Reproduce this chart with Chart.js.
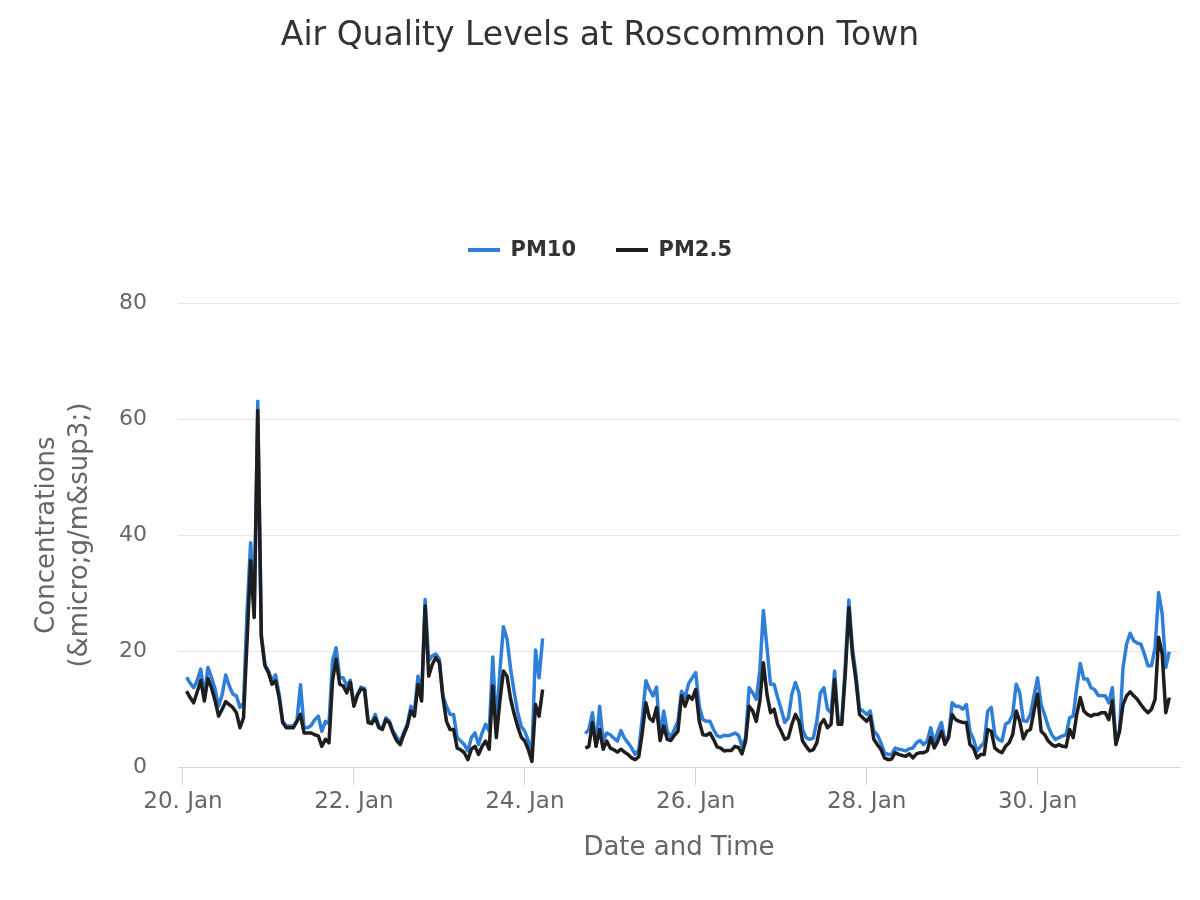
<!DOCTYPE html>
<html>
<head>
<meta charset="utf-8">
<title>Air Quality Levels at Roscommon Town</title>
<script src="https://cdn.jsdelivr.net/npm/chart.js@4/dist/chart.umd.min.js"></script>
<style>
  html, body { margin: 0; padding: 0; background: #ffffff; }
  canvas { display: block; }
</style>
</head>
<body>
<canvas id="aqChart" width="1200" height="900"></canvas>
<script>
// hourly readings, hour 1 = 20 Jan 01:00; null = no data
const pm10 = [
  15.5, 14.5, 13.7, 15.0, 16.9, 12.3, 17.2, 15.5, 13.5, 10.5, 12.5, 15.9, 14.0, 12.6, 12.3, 10.3,
  11.0, 27.0, 38.7, 26.4, 63.1, 22.9, 17.7, 16.6, 14.9, 15.9, 12.6, 7.9, 7.1, 7.1, 7.1, 8.0,
  14.2, 6.8, 6.8, 7.2, 8.2, 8.8, 6.2, 7.9, 7.5, 18.3, 20.6, 15.4, 15.4, 14.0, 15.0, 10.8,
  12.6, 13.8, 13.6, 7.9, 7.7, 9.1, 7.1, 6.8, 8.5, 7.9, 6.2, 5.2, 4.4, 6.0, 7.4, 10.5,
  9.7, 15.7, 12.0, 28.9, 18.3, 19.2, 19.5, 18.6, 12.3, 10.5, 9.1, 9.1, 5.1, 4.5, 3.9, 2.8,
  5.1, 5.9, 3.9, 5.9, 7.4, 6.2, 19.0, 6.8, 16.6, 24.2, 22.1, 17.0, 13.0, 9.5, 7.0, 6.2,
  4.5, 2.5, 20.2, 15.4, 22.2,
  null, null, null, null, null, null, null, null, null, null, null,
  5.8, 6.5, 9.4, 3.6, 10.5, 4.5, 5.9, 5.6, 5.0, 4.5, 6.3, 5.0, 4.2, 3.3, 2.2, 3.0,
  8.5, 14.9, 13.4, 12.3, 13.8, 5.0, 9.7, 6.2, 5.1, 6.5, 7.9, 13.1, 12.0, 14.4, 15.4, 16.3,
  10.5, 8.2, 7.9, 7.9, 6.5, 5.4, 5.2, 5.5, 5.4, 5.6, 5.9, 5.5, 3.6, 5.1, 13.7, 12.8,
  11.7, 16.6, 27.0, 20.6, 14.3, 14.3, 12.0, 10.0, 7.7, 8.5, 12.6, 14.6, 12.8, 6.5, 5.1, 4.8,
  5.0, 7.9, 12.8, 13.7, 10.0, 9.4, 16.6, 7.7, 7.7, 17.7, 28.8, 20.6, 16.0, 10.0, 9.7, 9.1,
  9.7, 6.2, 5.6, 4.2, 2.5, 2.2, 2.2, 3.3, 3.1, 3.0, 2.8, 3.2, 3.3, 4.2, 4.6, 3.9,
  4.5, 6.8, 4.2, 6.2, 7.7, 4.5, 5.4, 11.1, 10.5, 10.5, 10.0, 10.8, 6.2, 4.8, 2.8, 3.6,
  4.2, 9.7, 10.3, 5.6, 4.8, 4.5, 7.4, 7.8, 9.1, 14.3, 12.8, 8.0, 7.9, 9.1, 12.3, 15.4,
  10.8, 9.0, 7.0, 5.6, 4.8, 5.1, 5.4, 5.6, 8.5, 8.8, 13.7, 17.9, 15.2, 15.2, 13.7, 13.4,
  12.4, 12.3, 12.3, 11.1, 13.7, 4.2, 6.2, 17.2, 21.2, 23.1, 21.8, 21.4, 21.2, 19.5, 17.5, 17.5,
  20.6, 30.1, 26.4, 17.2, 19.9
];

const pm25 = [
  13.1, 12.0, 11.1, 13.0, 15.0, 11.4, 15.3, 13.7, 11.5, 8.8, 10.0, 11.3, 10.8, 10.3, 9.4, 6.8,
  8.5, 21.8, 35.6, 25.8, 61.5, 22.4, 17.5, 16.3, 14.3, 14.9, 12.0, 7.7, 6.8, 6.8, 6.8, 7.9,
  9.1, 5.9, 5.9, 5.9, 5.6, 5.4, 3.6, 4.8, 4.2, 14.9, 18.6, 14.3, 14.0, 12.8, 14.6, 10.5,
  12.4, 13.5, 13.3, 7.7, 7.5, 8.5, 6.8, 6.5, 8.2, 7.6, 5.9, 4.6, 3.9, 5.6, 7.1, 9.7,
  8.8, 14.3, 11.4, 27.8, 15.7, 17.7, 18.9, 18.0, 12.0, 7.9, 6.5, 6.5, 3.3, 3.0, 2.5, 1.3,
  3.1, 3.6, 2.2, 3.6, 4.5, 3.1, 14.0, 5.1, 11.4, 16.6, 15.7, 11.8, 9.2, 7.0, 5.2, 4.5,
  3.0, 1.0, 10.8, 8.8, 13.4,
  null, null, null, null, null, null, null, null, null, null, null,
  3.3, 3.6, 7.7, 3.6, 6.5, 3.1, 4.5, 3.3, 3.0, 2.6, 3.1, 2.6, 2.2, 1.6, 1.3, 1.8,
  6.0, 11.1, 8.5, 7.9, 10.3, 4.6, 7.1, 4.8, 4.6, 5.5, 6.2, 12.3, 10.5, 12.3, 11.7, 13.4,
  7.9, 5.6, 5.5, 5.9, 4.8, 3.5, 3.3, 2.8, 2.9, 2.9, 3.6, 3.4, 2.3, 4.5, 10.5, 9.7,
  7.9, 11.4, 18.0, 12.6, 9.4, 10.0, 7.4, 6.2, 4.8, 5.1, 7.4, 9.1, 7.9, 4.5, 3.6, 2.8,
  3.0, 4.2, 7.4, 8.2, 6.8, 7.4, 15.1, 7.4, 7.4, 16.0, 27.5, 19.5, 14.9, 9.1, 8.5, 7.9,
  8.8, 4.8, 3.9, 3.1, 1.6, 1.3, 1.4, 2.5, 2.2, 2.0, 1.9, 2.3, 1.6, 2.3, 2.5, 2.5,
  2.8, 5.1, 3.3, 4.5, 6.2, 3.9, 5.1, 9.1, 8.2, 7.9, 7.7, 7.7, 3.9, 3.3, 1.6, 2.2,
  2.2, 6.5, 6.2, 3.3, 2.8, 2.5, 3.6, 4.2, 5.6, 9.7, 7.9, 4.9, 6.2, 6.5, 9.7, 12.6,
  6.2, 5.6, 4.5, 3.9, 3.6, 3.9, 3.6, 3.5, 6.5, 5.1, 9.1, 12.0, 9.7, 9.1, 8.8, 9.1,
  9.1, 9.4, 9.4, 8.2, 11.4, 3.9, 6.2, 10.8, 12.3, 13.0, 12.3, 11.7, 10.8, 10.0, 9.4, 10.0,
  11.7, 22.4, 19.5, 9.4, 12.0
];

// hours since 20 Jan 00:00
const hours = pm10.map((v, i) => i + 1);
const tickHours = [0, 48, 96, 144, 192, 240];
const tickLabels = ['20. Jan', '22. Jan', '24. Jan', '26. Jan', '28. Jan', '30. Jan'];

Chart.defaults.font.family = "'DejaVu Sans', sans-serif";

const ctx = document.getElementById('aqChart').getContext('2d');
const myChart = new Chart(ctx, {
  type: 'line',
  data: {
    datasets: [
      {
        label: 'PM10',
        data: hours.map((h, i) => ({ x: h, y: pm10[i] })),
        borderColor: '#2f7ed8',
        backgroundColor: '#2f7ed8',
        borderWidth: 3.5,
        pointRadius: 0,
        order: 2
      },
      {
        label: 'PM2.5',
        data: hours.map((h, i) => ({ x: h, y: pm25[i] })),
        borderColor: '#1e1e1e',
        backgroundColor: '#1e1e1e',
        borderWidth: 3.5,
        pointRadius: 0,
        order: 1
      }
    ]
  },
  options: {
    responsive: false,
    devicePixelRatio: 1,
    animation: false,
    spanGaps: false,
    borderJoinStyle: 'round',
    layout: { padding: { left: 20, right: 20, top: 0, bottom: 32 } },
    plugins: {
      title: {
        display: true,
        text: 'Air Quality Levels at Roscommon Town',
        color: '#333333',
        font: { size: 33, weight: 'normal' },
        padding: { top: 17, bottom: 143 }
      },
      // empty box between legend and plot
      subtitle: {
        display: true,
        text: '',
        weight: 500,
        font: { size: 10, lineHeight: 1 },
        padding: { top: 0, bottom: 22.5 }
      },
      legend: {
        display: true,
        position: 'top',
        labels: {
          color: '#333333',
          font: { size: 21, weight: 'bold' },
          boxWidth: 32,
          boxHeight: 4,
          padding: 40,
          generateLabels: chart => chart.data.datasets.map((ds, i) => ({
            text: ds.label,
            fillStyle: ds.borderColor,
            strokeStyle: ds.borderColor,
            lineWidth: 0,
            hidden: false,
            datasetIndex: i,
            fontColor: '#333333'
          }))
        }
      },
      tooltip: { enabled: false }
    },
    scales: {
      x: {
        type: 'linear',
        min: -1.4,
        max: 280,
        afterBuildTicks: scale => {
          scale.ticks = tickHours.map(v => ({ value: v }));
        },
        ticks: {
          autoSkip: false,
          maxRotation: 0,
          color: '#666666',
          font: { size: 23 },
          padding: 3,
          callback: value => tickLabels[tickHours.indexOf(value)]
        },
        grid: {
          drawOnChartArea: false,
          drawTicks: true,
          tickLength: 18,
          tickColor: '#ccd6eb',
          color: '#ccd6eb'
        },
        border: { display: true, color: '#ccd6eb', width: 1 },
        title: {
          display: true,
          text: 'Date and Time',
          color: '#666666',
          font: { size: 26 },
          padding: { top: 14, bottom: 4 }
        }
      },
      y: {
        min: 0,
        max: 80,
        afterFit: scale => { scale.width = 158; },
        ticks: {
          stepSize: 20,
          color: '#666666',
          font: { size: 22 },
          padding: 31
        },
        grid: {
          color: '#e6e6e6',
          lineWidth: 1,
          drawTicks: false
        },
        border: { display: false },
        title: {
          display: true,
          text: ['Concentrations', '(&micro;g/m&sup3;)'],
          color: '#666666',
          font: { size: 26, lineHeight: 1.27 },
          padding: { top: 11, bottom: 22 }
        }
      }
    }
  }
});
</script>
</body>
</html>
